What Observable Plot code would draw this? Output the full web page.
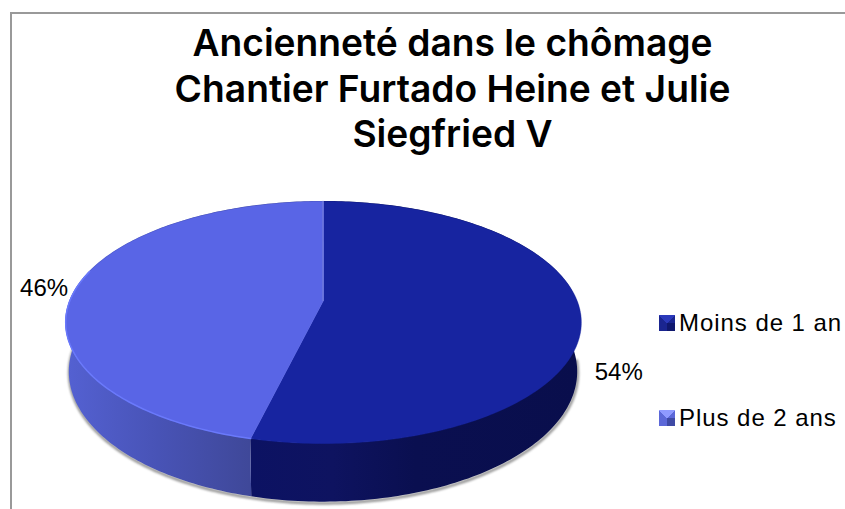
<!DOCTYPE html>
<html lang="fr">
<head>
<meta charset="utf-8">
<script src="https://cdn.jsdelivr.net/npm/d3@7"></script>
<script src="https://cdn.jsdelivr.net/npm/@observablehq/plot@0.6"></script>
<style>
  html, body { margin: 0; padding: 0; background: #fff; width: 845px; height: 509px; overflow: hidden; }
  #page { position: relative; width: 845px; height: 509px; font-family: "Liberation Sans", sans-serif; color: #000; }
  #frame { position: absolute; left: 10px; top: 12px; right: -4px; bottom: -4px; border-left: 2px solid #999; border-top: 2px solid #999; }
  #title { position: absolute; left: 0; top: 20px; width: 905px; text-align: center; font-family: "Inter", sans-serif; font-size: 37.2px; font-weight: 600; line-height: 45.5px; }
  #chart { position: absolute; left: 0; top: 170px; }
  #chart svg { display: block; background: transparent; }
  .key { position: absolute; left: 659px; display: flex; align-items: center; font-size: 24px; letter-spacing: 0.95px; white-space: nowrap; line-height: 30px; }
  .swatch { width: 16px; height: 16px; margin-right: 4px; flex: none; }
</style>
</head>
<body>
<div id="page">
  <div id="frame"></div>
  <div id="title"></div>
  <div id="chart"></div>
  <div id="legend"></div>
</div>
<script>
// Chart content
const titleLines = ["Ancienneté dans le chômage", "Chantier Furtado Heine et Julie", "Siegfried V"];
const categories = ["Moins de 1 an", "Plus de 2 ans"];
const shares = [53.8, 46.2];
const topColors = ["#1724a0", "#5965e6"];

// Perspective of the tilted disk, in page pixels
const cx = 323, apexY = 300, depth = 117, halfW = 253.5, persp = 0.1818, wall = 48, lowerScale = 0.986;
const top0 = 170;

function rim(deg, lower) {
  const t = deg * Math.PI / 180, u = Math.sin(t), v = Math.cos(t), w = 1 + persp * v;
  return lower
    ? {x: cx + lowerScale * halfW * u / w, y: apexY + (wall - depth * v) / w}
    : {x: cx + halfW * u / w, y: apexY - depth * v / w};
}
function arc(a, b, lower) {
  const n = Math.ceil(Math.abs(b - a));
  return d3.range(n + 1).map(i => rim(a + (b - a) * i / n, lower));
}
const total = d3.sum(shares);
const cut = 360 * shares[0] / total;
const spans = [[0, cut], [cut, 360]];
const apex = {x: cx, y: apexY};
const wedge = ([a, b]) => [apex, ...arc(a, b, false), apex];
const side = ([a, b]) => {
  const up = arc(a, b, false), low = arc(a, b, true);
  return up.map((p, i) => ({x1: p.x, y1: p.y, x2: low[i].x, y2: low[i].y}));
};
const mid = spans.map(([a, b]) => rim((a + b) / 2, false));
const pct = i => `${Math.round(100 * shares[i] / total)}%`;

function gradients() {
  const d = document.createElementNS("http://www.w3.org/2000/svg", "defs");
  d.innerHTML = `
    <linearGradient id="wallDark" gradientUnits="userSpaceOnUse" x1="250" x2="580" y1="0" y2="0">
      <stop offset="0" stop-color="#0c1263"/><stop offset="0.25" stop-color="#0e1360"/>
      <stop offset="0.5" stop-color="#0a0f50"/><stop offset="1" stop-color="#090e4c"/>
    </linearGradient>
    <linearGradient id="wallLight" gradientUnits="userSpaceOnUse" x1="66" x2="250" y1="0" y2="0">
      <stop offset="0" stop-color="#5461d2"/><stop offset="0.5" stop-color="#4853b6"/>
      <stop offset="1" stop-color="#3f4899"/>
    </linearGradient>`;
  return d;
}

const chart = Plot.plot({
  width: 845,
  height: 339,
  margin: 0,
  style: {background: "transparent", overflow: "visible"},
  x: {domain: [0, 845], range: [0, 845], axis: null},
  y: {domain: [top0, 509], range: [0, 339], axis: null},
  marks: [
    gradients,
    Plot.line(arc(95, 270, true), {x: "x", y: "y", stroke: "#777", strokeWidth: 3, strokeOpacity: 0.75, dy: 1, imageFilter: "blur(1.2px)"}),
    Plot.area(side(spans[0]), {x1: "x1", y1: "y1", x2: "x2", y2: "y2", fill: "url(#wallDark)"}),
    Plot.area(side(spans[1]), {x1: "x1", y1: "y1", x2: "x2", y2: "y2", fill: "url(#wallLight)"}),
    Plot.line(wedge(spans[0]), {x: "x", y: "y", fill: topColors[0], stroke: topColors[0], strokeWidth: 0.5}),
    Plot.line(wedge(spans[1]), {x: "x", y: "y", fill: topColors[1], stroke: topColors[1], strokeWidth: 0.5}),
    Plot.line(arc(cut, 285, false), {x: "x", y: "y", stroke: "#6a79fb", strokeWidth: 1.5}),
    Plot.line([rim(0, false), apex], {x: "x", y: "y", stroke: "#6f79dc", strokeWidth: 1.5, dx: -0.5}),
    Plot.text([pct(0)], {x: mid[0].x, y: mid[0].y, dx: 38, dy: 58, text: d => d, fontSize: 24, fill: "#000", fontFamily: "Liberation Sans"}),
    Plot.text([pct(1)], {x: mid[1].x, y: mid[1].y, dx: -33, dy: 1, text: d => d, fontSize: 24, fill: "#000", fontFamily: "Liberation Sans"})
  ]
});
document.getElementById("chart").append(chart);

document.getElementById("title").innerHTML = titleLines.join("<br>");

const swatchTones = [
  ["#2b39ba", "#10186e", "#1a2590"],
  ["#8f9aff", "#3f4aa5", "#5c68d8"]
];
const legendTops = [308, 403];
const legend = document.getElementById("legend");
categories.forEach((name, i) => {
  const [hi, lo, side] = swatchTones[i];
  const row = document.createElement("div");
  row.className = "key";
  row.style.top = legendTops[i] + "px";
  const s = document.createElement("span");
  s.className = "swatch";
  s.style.background = `conic-gradient(from -45deg at 50% 50%, ${hi} 0 90deg, ${side} 90deg 135deg, ${lo} 135deg 225deg, ${side} 225deg 360deg)`;
  row.append(s, document.createTextNode(name));
  legend.append(row);
});
</script>
</body>
</html>
